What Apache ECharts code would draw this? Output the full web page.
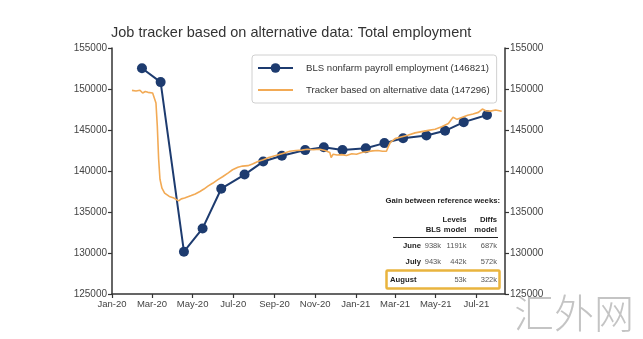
<!DOCTYPE html>
<html>
<head>
<meta charset="utf-8">
<script src="https://cdn.jsdelivr.net/npm/echarts@6/dist/echarts.min.js"></script>
<style>
html,body{margin:0;padding:0;background:#fff;}
#chart{width:643px;height:339px;}
</style>
</head>
<body>
<div id="chart"></div>
<script>
// ---- data ----
const titleText = 'Job tracker based on alternative data: Total employment';
const blsName = 'BLS nonfarm payroll employment (146821)';
const trackerName = 'Tracker based on alternative data (147296)';

const blsDates = ['2020-02-15','2020-03-14','2020-04-18','2020-05-16','2020-06-13','2020-07-18','2020-08-15','2020-09-12','2020-10-17','2020-11-14','2020-12-12','2021-01-16','2021-02-13','2021-03-13','2021-04-17','2021-05-15','2021-06-12','2021-07-17'];
const blsValues = [152523,150840,130161,132994,137840,139566,141149,141865,142550,142900,142560,142780,143400,144000,144330,144900,145960,146821];

const trackerDates = ['2020-01-31','2020-02-03','2020-02-06','2020-02-09','2020-02-12','2020-02-16','2020-02-20','2020-02-24','2020-02-27','2020-03-02','2020-03-05','2020-03-07','2020-03-09','2020-03-11','2020-03-13','2020-03-16','2020-03-20','2020-03-27','2020-04-03','2020-04-10','2020-04-14','2020-04-19','2020-04-24','2020-04-29','2020-05-05','2020-05-12','2020-05-18','2020-05-24','2020-05-31','2020-06-08','2020-06-15','2020-06-23','2020-06-30','2020-07-08','2020-07-15','2020-07-23','2020-07-30','2020-08-07','2020-08-14','2020-08-22','2020-08-30','2020-09-08','2020-09-16','2020-09-24','2020-10-03','2020-10-12','2020-10-20','2020-10-29','2020-11-08','2020-11-16','2020-11-23','2020-11-25','2020-11-28','2020-12-04','2020-12-11','2020-12-18','2020-12-26','2021-01-02','2021-01-10','2021-01-18','2021-01-26','2021-02-03','2021-02-10','2021-02-16','2021-02-19','2021-02-22','2021-03-01','2021-03-10','2021-03-20','2021-03-31','2021-04-10','2021-04-20','2021-04-30','2021-05-10','2021-05-20','2021-05-27','2021-06-02','2021-06-10','2021-06-18','2021-06-26','2021-07-04','2021-07-10','2021-07-15','2021-07-22','2021-07-30','2021-08-08'];
const trackerValues = [149830,149590,149750,149710,149850,149510,149700,149590,149750,149510,149300,148300,145500,141500,139000,137900,137300,136900,136700,136350,136600,136700,136850,137000,137200,137500,137800,138150,138500,138950,139300,139750,140150,140450,140600,140650,140850,141150,141350,141600,141800,142000,142200,142400,142500,142550,142650,142600,142650,142500,142250,141650,142050,141950,142000,141900,142100,142050,142250,142350,142450,142500,142400,142400,143000,143500,143950,144150,144350,144650,144800,144950,145100,145400,145800,146550,146300,146550,146800,146950,147150,147550,147350,147300,147450,147296];

const xTickDates = ['2020-01-01','2020-03-01','2020-05-01','2020-07-01','2020-09-01','2020-11-01','2021-01-01','2021-03-01','2021-05-01','2021-07-01'];
const xTickLabels = ['Jan-20','Mar-20','May-20','Jul-20','Sep-20','Nov-20','Jan-21','Mar-21','May-21','Jul-21'];
const xMin = '2020-01-01';
const xMax = '2021-08-13';
const yMin = 125000, yMax = 155000, yStep = 5000;

const tableTitle = 'Gain between reference weeks:';
const tableHead1 = ['', 'Levels', 'Diffs'];
const tableHead2 = ['BLS', 'model', 'model'];
const tableMonths = ['June', 'July', 'August'];
const tableBLS = ['938k', '943k', ''];
const tableLevels = ['1191k', '442k', '53k'];
const tableDiffs = ['687k', '572k', '322k'];
const watermark = '汇外网';

// ---- build ----
function ts(s){ const p = s.split('-').map(Number); return Date.UTC(p[0], p[1]-1, p[2]); }
const tickTs = xTickDates.map(ts);
const labelMap = {};
tickTs.forEach((t,i)=>{ labelMap[t] = xTickLabels[i]; });

const FONT = '"Liberation Sans", Arial, sans-serif';
const NAVY = '#1d3b6f';
const ORANGE = '#f2aa55';

const chart = echarts.init(document.getElementById('chart'), null, {renderer:'canvas'});

// table graphics
const colX = [441, 466.5, 497];
const rowY = [246, 262, 279.5];
const g = [];
g.push({type:'text', x: 500, y: 201, style:{text: tableTitle, font: 'bold 7.7px ' + FONT, fill:'#222', align:'right', verticalAlign:'middle'}});
for (let i=0;i<3;i++){
  if (tableHead1[i]) g.push({type:'text', x: colX[i], y: 219.5, style:{text: tableHead1[i], font:'bold 7.7px ' + FONT, fill:'#222', align:'right', verticalAlign:'middle'}});
  g.push({type:'text', x: colX[i], y: 230, style:{text: tableHead2[i], font:'bold 7.7px ' + FONT, fill:'#222', align:'right', verticalAlign:'middle'}});
}
g.push({type:'line', shape:{x1:393, y1:237.5, x2:498, y2:237.5}, style:{stroke:'#222', lineWidth:1.2}});
for (let r=0;r<3;r++){
  const cells = [tableBLS[r], tableLevels[r], tableDiffs[r]];
  if (r < 2) {
    g.push({type:'text', x: 421, y: rowY[r], style:{text: tableMonths[r], font:'bold 7.7px ' + FONT, fill:'#222', align:'right', verticalAlign:'middle'}});
  } else {
    g.push({type:'text', x: 390, y: rowY[r], style:{text: tableMonths[r], font:'bold 7.7px ' + FONT, fill:'#222', align:'left', verticalAlign:'middle'}});
  }
  for (let c=0;c<3;c++){
    if (cells[c]) g.push({type:'text', x: colX[c], y: rowY[r], style:{text: cells[c], font:'7.5px ' + FONT, fill:'#555', align:'right', verticalAlign:'middle'}});
  }
}
g.push({type:'rect', shape:{x:386.5, y:270.5, width:113, height:18, r:1}, style:{fill:'rgba(255,255,255,0)', stroke:'#e9b43e', lineWidth:2.5}, z: 10});
g.push({type:'text', x: 574, y: 313, style:{text: watermark, font:'300 40px "Noto Sans CJK SC", sans-serif', fill:'#c4c4c4', align:'center', verticalAlign:'middle'}});

const axisCommonY = {
  type:'value', min:yMin, max:yMax, interval:yStep,
  axisLine:{show:true, lineStyle:{color:'#333', width:1.5}},
  axisTick:{show:true, inside:false, length:4, lineStyle:{color:'#333', width:1.2}},
  axisLabel:{fontSize:10, color:'#444', margin:5, fontFamily:FONT, formatter:function(v){ return String(v); }},
  splitLine:{show:false}
};

chart.setOption({
  animation:false,
  backgroundColor:'#fff',
  title:{text:titleText, left:111, top:25, padding:0,
    textStyle:{fontSize:14.5, fontWeight:'normal', color:'#333', fontFamily:FONT}},
  grid:{left:112, right:138, top:48, bottom:45},
  legend:{
    orient:'vertical', left:252, top:55,
    padding:[8,7,8,5], itemGap:12, itemWidth:35, itemHeight:12,
    borderColor:'#d0d0d0', borderWidth:1, borderRadius:3,
    backgroundColor:'rgba(255,255,255,0.85)',
    textStyle:{fontSize:9.6, color:'#333', fontFamily:FONT, padding:[0,0,0,8]},
    data:[
      {name: blsName},
      {name: trackerName, itemStyle:{color:'rgba(0,0,0,0)', borderColor:'rgba(0,0,0,0)', borderWidth:0}}
    ]
  },
  xAxis:{
    type:'value', min:ts(xMin), max:ts(xMax),
    axisLine:{show:true, lineStyle:{color:'#333', width:1.5}},
    axisTick:{show:true, length:4, customValues:tickTs, lineStyle:{color:'#333', width:1.2}},
    axisLabel:{fontSize:9.5, color:'#444', margin:5, fontFamily:FONT, customValues:tickTs,
      formatter:function(v){ return labelMap[v] !== undefined ? labelMap[v] : ''; }},
    splitLine:{show:false}
  },
  yAxis:[
    Object.assign({position:'left'}, axisCommonY),
    Object.assign({position:'right'}, axisCommonY)
  ],
  series:[
    {
      name:blsName, type:'line',
      data: blsDates.map((d,i)=>[ts(d), blsValues[i]]),
      symbol:'circle', symbolSize:10,
      lineStyle:{color:NAVY, width:2},
      itemStyle:{color:NAVY},
      z:2
    },
    {
      name:trackerName, type:'line',
      data: trackerDates.map((d,i)=>[ts(d), trackerValues[i]]),
      showSymbol:false, symbol:'none',
      lineStyle:{color:ORANGE, width:1.6},
      itemStyle:{color:ORANGE},
      z:3
    }
  ],
  graphic: g
});
</script>
</body>
</html>
